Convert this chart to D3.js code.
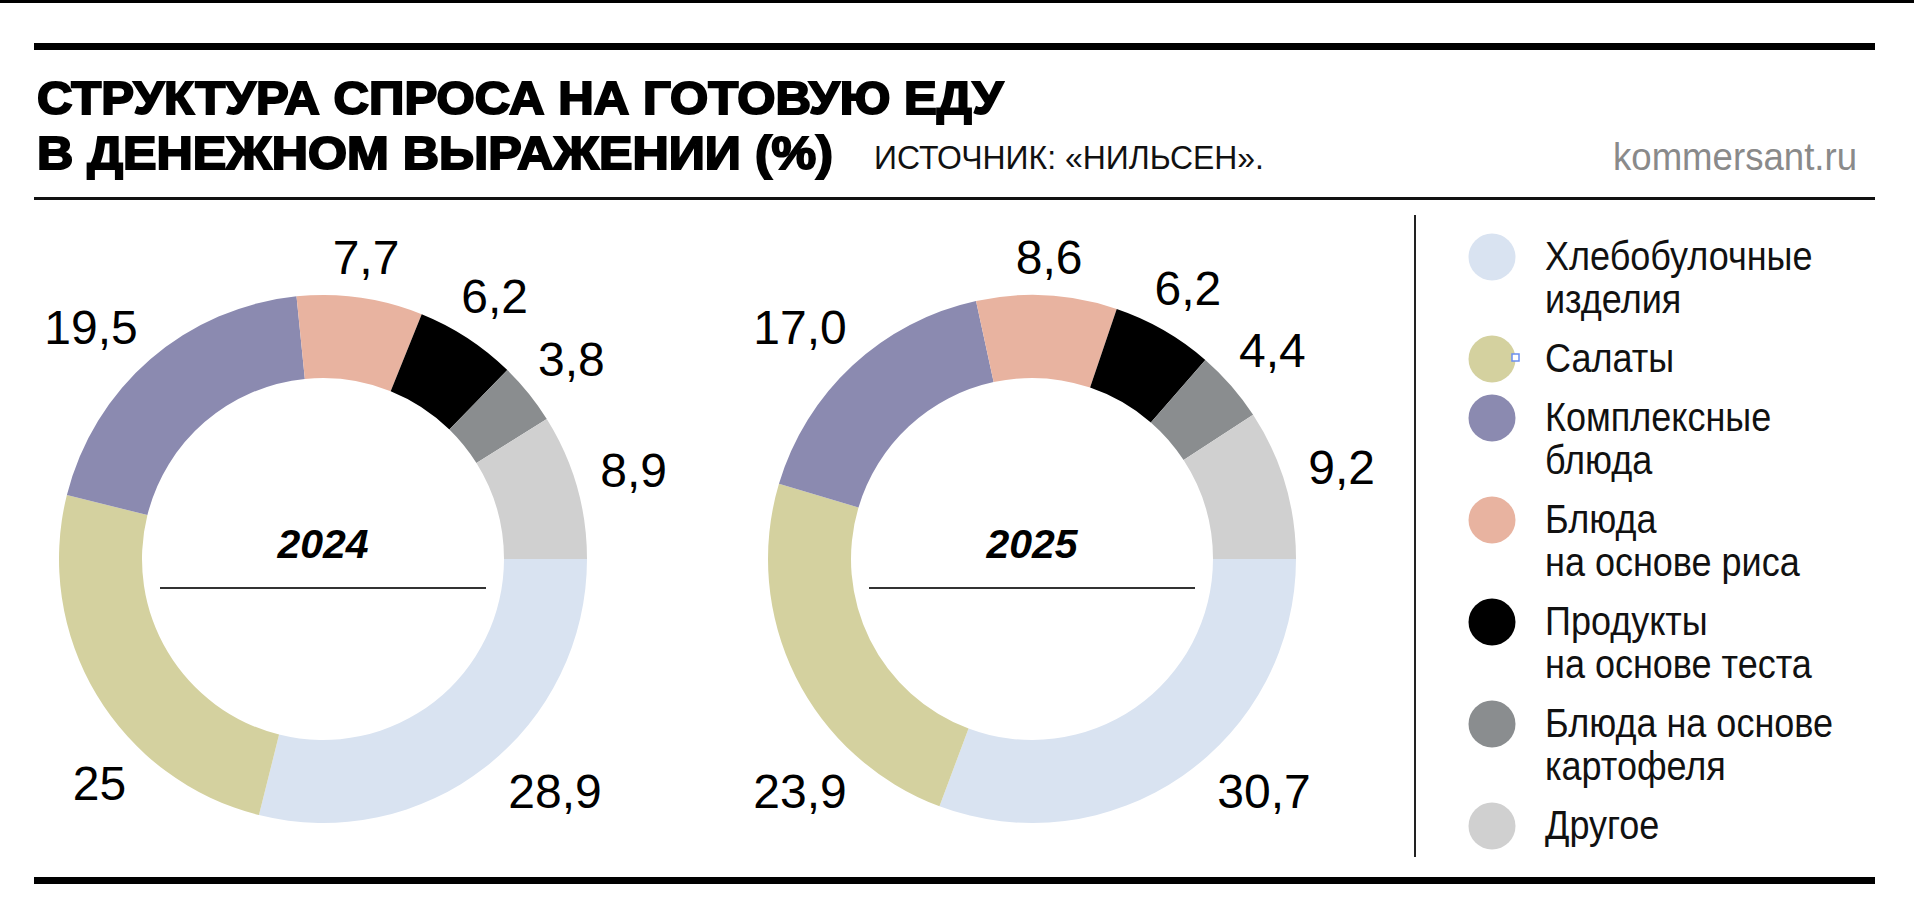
<!DOCTYPE html>
<html>
<head>
<meta charset="utf-8">
<script src="https://cdn.jsdelivr.net/npm/d3@7"></script>
<style>
  body { margin: 0; background: #fff; }
  svg { display: block; }
  text { font-family: "Liberation Sans", Arial, sans-serif; }
</style>
</head>
<body>
<svg id="chart" width="1914" height="923"></svg>
<script>
// данные
var categories = ["Хлебобулочные изделия", "Салаты", "Комплексные блюда", "Блюда на основе риса",
                  "Продукты на основе теста", "Блюда на основе картофеля", "Другое"];
var legendLines = [["Хлебобулочные", "изделия"], ["Салаты"], ["Комплексные", "блюда"],
                   ["Блюда", "на основе риса"], ["Продукты", "на основе теста"],
                   ["Блюда на основе", "картофеля"], ["Другое"]];
var years = ["2024", "2025"];
var values2024 = [28.9, 25, 19.5, 7.7, 6.2, 3.8, 8.9];
var values2025 = [30.7, 23.9, 17.0, 8.6, 6.2, 4.4, 9.2];
var labels2024 = ["28,9", "25", "19,5", "7,7", "6,2", "3,8", "8,9"];
var labels2025 = ["30,7", "23,9", "17,0", "8,6", "6,2", "4,4", "9,2"];
var colors = ["#d9e3f1", "#d4d19f", "#8b8ab0", "#e8b3a0", "#000000", "#8a8d8f", "#d0d0d0"];

var svg = d3.select("#chart");

// рамка и линейки
svg.append("rect").attr("x", 0).attr("y", 0).attr("width", 1914).attr("height", 3).attr("fill", "#000");
svg.append("rect").attr("x", 34).attr("y", 43).attr("width", 1841).attr("height", 7).attr("fill", "#000");
svg.append("rect").attr("x", 34).attr("y", 197).attr("width", 1841).attr("height", 3).attr("fill", "#111");
svg.append("rect").attr("x", 34).attr("y", 877).attr("width", 1841).attr("height", 7).attr("fill", "#000");
svg.append("rect").attr("x", 1414).attr("y", 215).attr("width", 2).attr("height", 642).attr("fill", "#222");

// заголовок
svg.append("text")
    .attr("x", 37).attr("y", 114)
    .attr("font-size", 47).attr("font-weight", "bold")
    .attr("stroke", "#000").attr("stroke-width", 2)
    .attr("textLength", 966).attr("lengthAdjust", "spacingAndGlyphs")
    .text("СТРУКТУРА СПРОСА НА ГОТОВУЮ ЕДУ");
svg.append("text")
    .attr("x", 37).attr("y", 169)
    .attr("font-size", 47).attr("font-weight", "bold")
    .attr("stroke", "#000").attr("stroke-width", 2)
    .attr("textLength", 796).attr("lengthAdjust", "spacingAndGlyphs")
    .text("В ДЕНЕЖНОМ ВЫРАЖЕНИИ (%)");
svg.append("text")
    .attr("x", 874).attr("y", 169)
    .attr("font-size", 33).attr("fill", "#111")
    .attr("textLength", 390).attr("lengthAdjust", "spacingAndGlyphs")
    .text("ИСТОЧНИК: «НИЛЬСЕН».");
svg.append("text")
    .attr("x", 1613).attr("y", 170)
    .attr("font-size", 38).attr("fill", "#8a8a8a")
    .attr("textLength", 244).attr("lengthAdjust", "spacingAndGlyphs")
    .text("kommersant.ru");

// кольца
var pie = d3.pie().sort(null).value(function(d){ return d; })
    .startAngle(Math.PI / 2).endAngle(Math.PI / 2 + 2 * Math.PI);
var arc = d3.arc().innerRadius(181).outerRadius(264);

function drawDonut(cx, cy, values, labels, year){
    var g = svg.append("g").attr("transform", "translate(" + cx + "," + cy + ")");
    var arcs = pie(values);

    g.selectAll("path")
        .data(arcs)
        .enter().append("path")
        .attr("d", arc)
        .attr("fill", function(d, i){ return colors[i]; });

    g.selectAll("text.val")
        .data(arcs)
        .enter().append("text")
        .attr("class", "val")
        .attr("font-size", 48)
        .attr("text-anchor", "middle")
        .attr("dy", "0.36em")
        .text(function(d, i){ return labels[i]; })
        .attr("transform", function(d){
            var a = (d.startAngle + d.endAngle) / 2;
            var r = 302 + 22 * Math.abs(Math.sin(a));
            // крупные доли подписаны в середине своей четверти
            if (d.data >= 15) {
                a = (Math.floor(a / (Math.PI / 2)) + 0.5) * (Math.PI / 2);
                r = 300 + 0.3 * this.getComputedTextLength();
            }
            return "translate(" + (r * Math.sin(a)) + "," + (-r * Math.cos(a)) + ")";
        });

    g.append("text")
        .attr("x", 0).attr("y", -1)
        .attr("text-anchor", "middle")
        .attr("font-size", 41).attr("font-weight", "bold").attr("font-style", "italic")
        .text(year);
    g.append("line")
        .attr("x1", -163).attr("x2", 163)
        .attr("y1", 29).attr("y2", 29)
        .attr("stroke", "#333").attr("stroke-width", 2);
}

drawDonut(323, 559, values2024, labels2024, years[0]);
drawDonut(1032, 559, values2025, labels2025, years[1]);

// легенда
var legend = svg.append("g");
var ly = 257;
legendLines.forEach(function(lines, i){
    legend.append("circle")
        .attr("cx", 1492).attr("cy", ly).attr("r", 23.5)
        .attr("fill", colors[i]);
    lines.forEach(function(line, j){
        var t = legend.append("text")
            .attr("x", 1545).attr("y", ly + 13 + j * 43)
            .attr("font-size", 40).attr("fill", "#111")
            .text(line);
        var w = t.node().getComputedTextLength();
        t.attr("textLength", w * 0.9).attr("lengthAdjust", "spacingAndGlyphs");
    });
    if (i === 1) {
        legend.append("rect")
            .attr("x", 1512).attr("y", 354).attr("width", 7).attr("height", 7)
            .attr("fill", "#fff").attr("stroke", "#6b8ff0").attr("stroke-width", 1.5);
    }
    ly += lines.length * 43 + 16;
});
</script>
</body>
</html>
